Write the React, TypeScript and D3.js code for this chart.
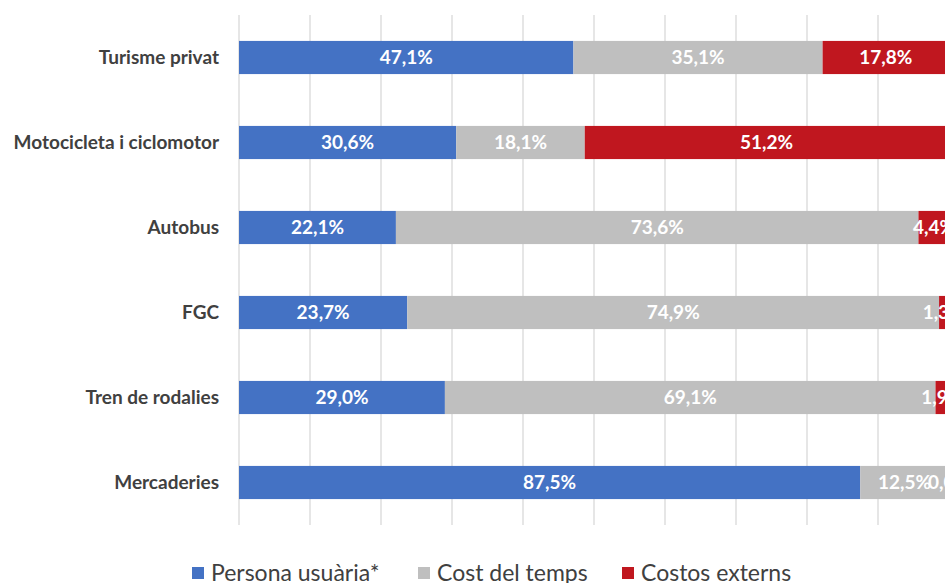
import React, { useEffect, useRef } from 'react';
import * as d3 from 'd3';

const categories = ['Turisme privat', 'Motocicleta i ciclomotor', 'Autobus', 'FGC', 'Tren de rodalies', 'Mercaderies'];
const personaUsuaria = [47.1, 30.6, 22.1, 23.7, 29.0, 87.5];
const costTemps = [35.1, 18.1, 73.6, 74.9, 69.1, 12.5];
const costosExterns = [17.8, 51.2, 4.4, 1.3, 1.9, 0.0];
const seriesNames = ['Persona usuària*', 'Cost del temps', 'Costos externs'];
const xTicks = [0, 10, 20, 30, 40, 50, 60, 70, 80, 90, 100];

const colors = ['#4472C4', '#BFBFBF', '#C0171F'];

const App: React.FC = () => {
  const svgRef = useRef<SVGSVGElement>(null);

  useEffect(() => {
    if (!svgRef.current) return;
    const svg = d3.select(svgRef.current);
    svg.selectAll('*').remove();

    const rows = categories.map((c, i) => ({
      cat: c,
      s0: personaUsuaria[i],
      s1: costTemps[i],
      s2: costosExterns[i],
    }));

    const keys = ['s0', 's1', 's2'];
    const stacked = d3.stack<any>().keys(keys)(rows);

    const x = d3.scaleLinear().domain([0, 100]).range([239, 949]);
    const y = d3.scaleBand().domain(categories).range([15, 525]).paddingInner(0.61).paddingOuter(0.305);

    // gridlines
    svg.append('g')
      .selectAll('line')
      .data(xTicks)
      .enter().append('line')
      .attr('x1', d => x(d))
      .attr('x2', d => x(d))
      .attr('y1', 15)
      .attr('y2', 525)
      .attr('stroke', '#D9D9D9')
      .attr('stroke-width', 1.3);

    // bars
    const layer = svg.append('g')
      .selectAll('g')
      .data(stacked)
      .enter().append('g')
      .attr('fill', (d, i) => colors[i]);

    layer.selectAll('rect')
      .data(d => d)
      .enter().append('rect')
      .attr('x', d => x(d[0]))
      .attr('y', d => y(d.data.cat) as number)
      .attr('width', d => Math.max(0, x(d[1]) - x(d[0])))
      .attr('height', y.bandwidth());

    // value labels
    const fmt = (v: number) => v.toFixed(1).replace('.', ',') + '%';
    const labels = svg.append('g')
      .attr('font-family', 'Lato, "Open Sans", sans-serif')
      .attr('font-weight', 'bold')
      .attr('font-size', 19)
      .attr('fill', '#FFFFFF')
      .attr('text-anchor', 'middle');

    stacked.forEach((s) => {
      labels.selectAll(null)
        .data(s)
        .enter().append('text')
        .attr('x', d => (x(d[0]) + x(d[1])) / 2)
        .attr('y', d => (y(d.data.cat) as number) + y.bandwidth() / 2)
        .attr('dy', '0.36em')
        .text(d => fmt(d[1] - d[0]));
    });

    // category labels
    svg.append('g')
      .attr('font-family', 'Lato, "Open Sans", sans-serif')
      .attr('font-weight', 'bold')
      .attr('font-size', 19)
      .attr('fill', '#404040')
      .attr('text-anchor', 'end')
      .selectAll('text')
      .data(categories)
      .enter().append('text')
      .attr('x', 219)
      .attr('y', d => (y(d) as number) + y.bandwidth() / 2)
      .attr('dy', '0.36em')
      .text(d => d);

    // legend
    const legendX = [192, 418, 622];
    const legend = svg.append('g')
      .attr('font-family', 'Lato, "Open Sans", sans-serif')
      .attr('font-size', 23)
      .attr('fill', '#404040')
      .selectAll('g')
      .data(seriesNames)
      .enter().append('g')
      .attr('transform', (d, i) => `translate(${legendX[i]},573)`);

    legend.append('rect')
      .attr('x', 0)
      .attr('y', -6)
      .attr('width', 12)
      .attr('height', 12)
      .attr('fill', (d, i) => colors[i]);

    legend.append('text')
      .attr('x', 19)
      .attr('y', 0)
      .attr('dy', '0.35em')
      .text(d => d);
  }, []);

  return (
    <svg
      ref={svgRef}
      width={945}
      height={583}
      style={{ position: 'absolute', left: 0, top: 0, background: '#FFFFFF' }}
    />
  );
};

export default App;
